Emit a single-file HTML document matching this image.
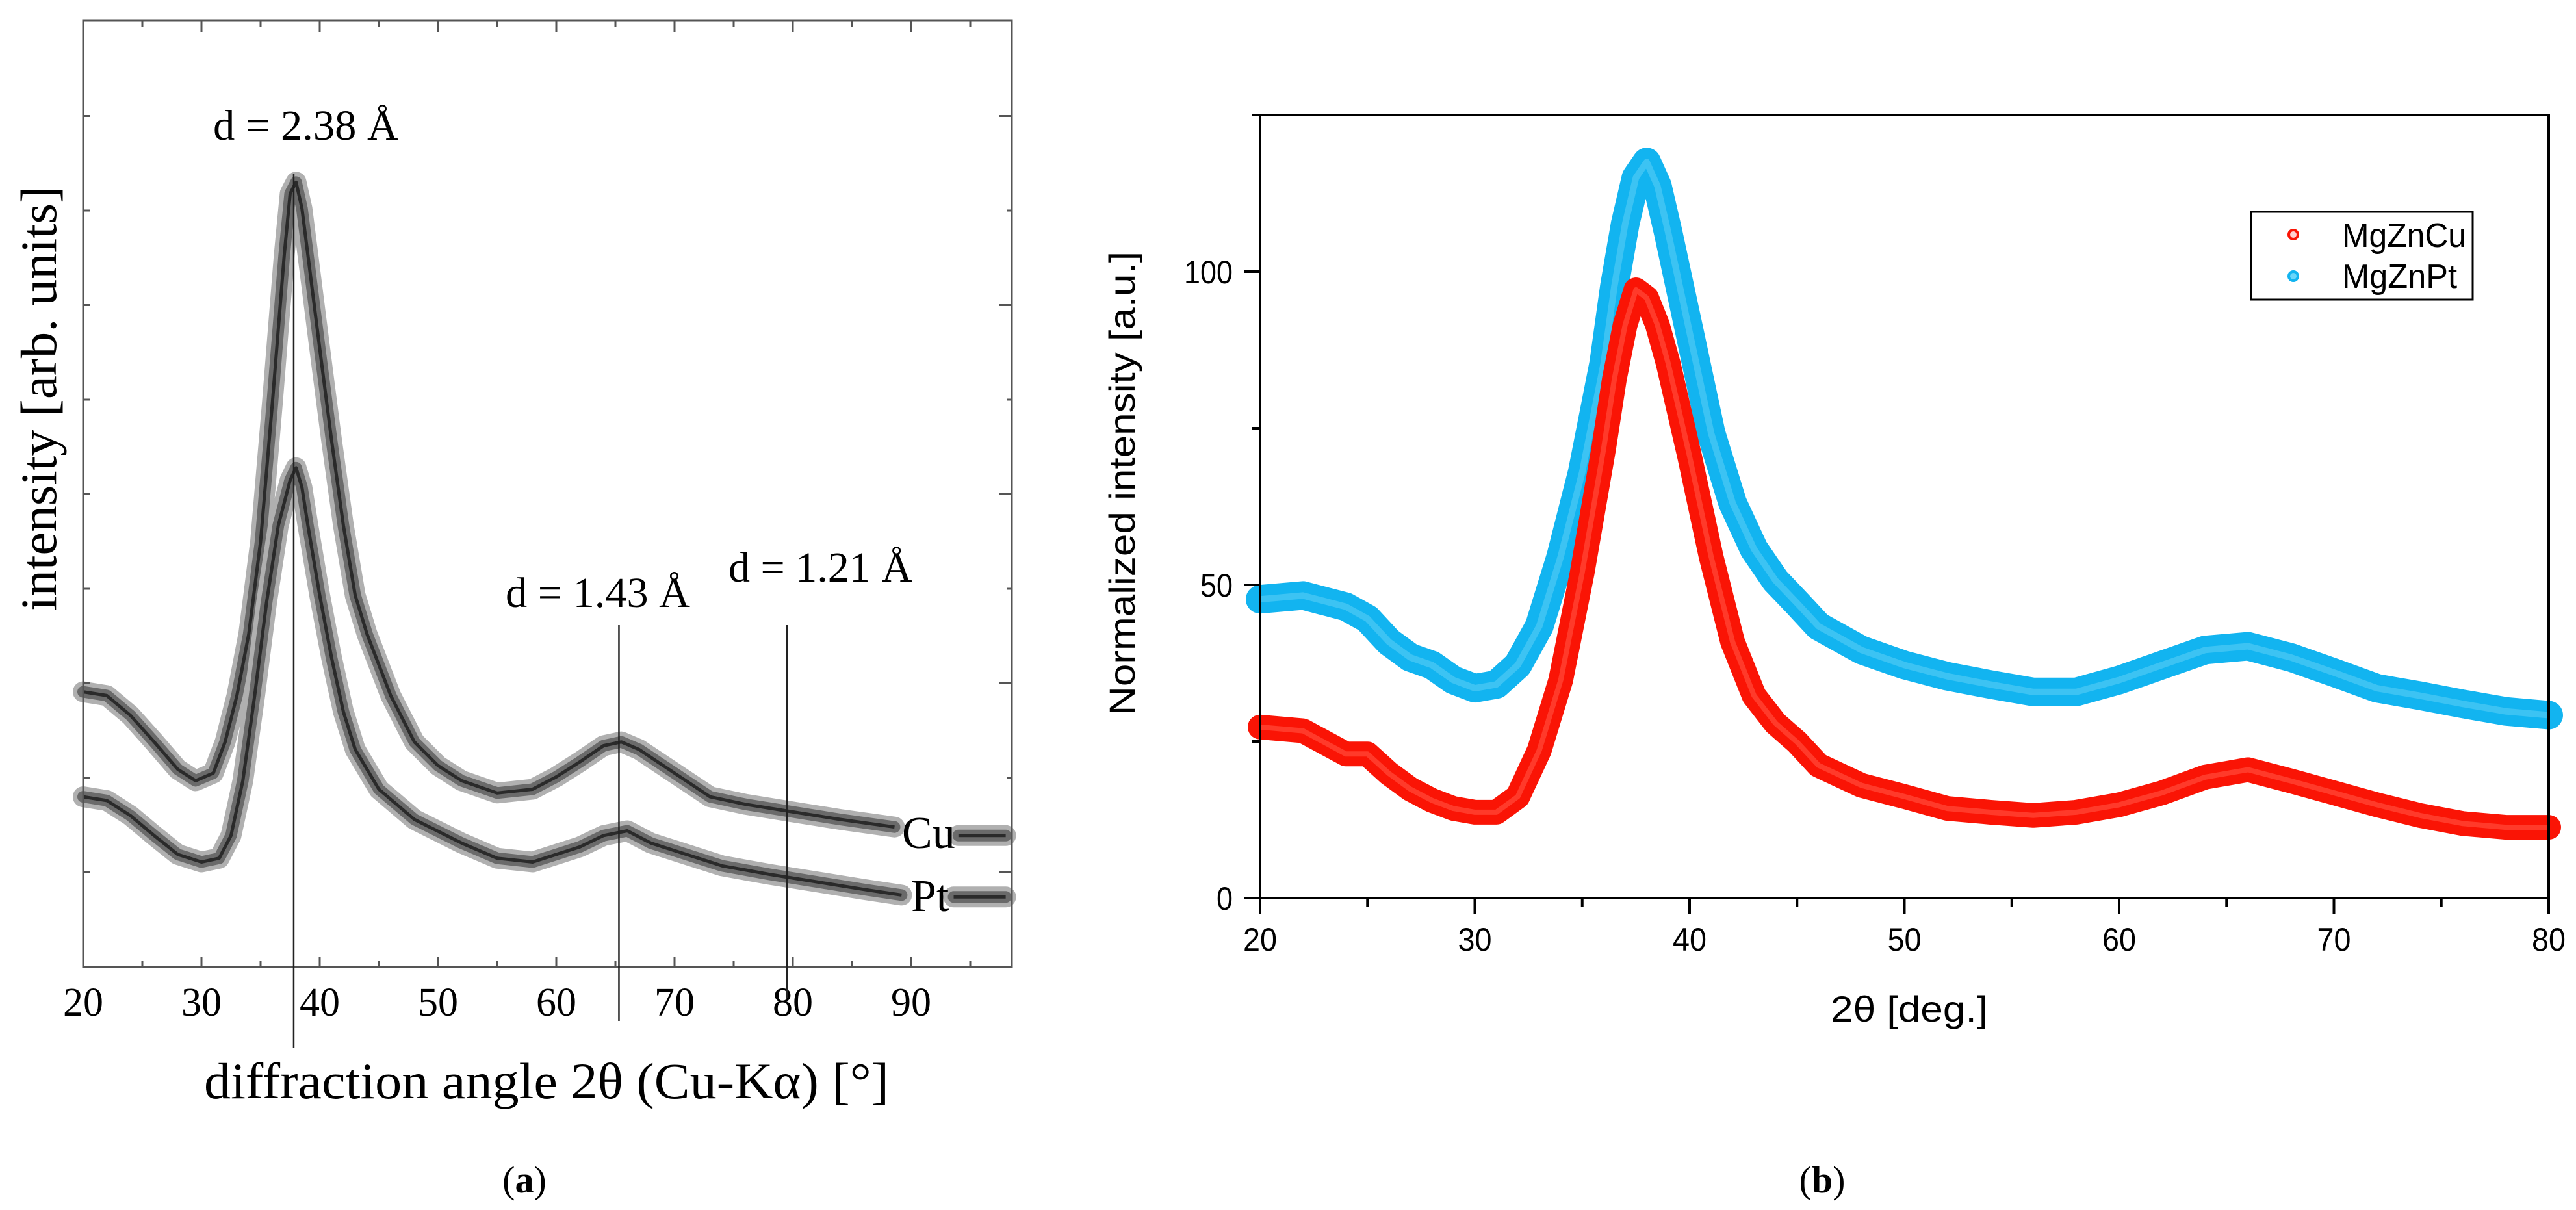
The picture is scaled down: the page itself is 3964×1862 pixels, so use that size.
<!DOCTYPE html>
<html><head><meta charset="utf-8"><style>
html,body{margin:0;padding:0;background:#fff;}
svg{display:block;}
</style></head><body>
<svg id="fig" width="3964" height="1862" viewBox="0 0 3964 1862" xmlns="http://www.w3.org/2000/svg">
<rect width="3964" height="1862" fill="#fff"/>
<g id="panelA" font-family="'Liberation Serif', serif"></g>
<g id="panelB" font-family="'Liberation Sans', sans-serif"></g>
</svg>
<script>
// ---- Panel (a) data ----
const aCuX = [20,22,24,26,28,29.5,31,32,33,34,35,36,37,37.5,38,38.5,39,40,41,42,43,44,46,48,50,52,55,58,60,62,64,65.5,67,70,73,76,80,84,88.6,91,94,98];
const aCuY = [2.91,2.87,2.66,2.38,2.09,1.97,2.05,2.38,2.87,3.52,4.50,5.97,7.53,8.18,8.30,8.02,7.53,6.54,5.57,4.67,3.93,3.52,2.87,2.38,2.13,1.97,1.84,1.88,2.01,2.17,2.34,2.38,2.30,2.05,1.80,1.72,1.64,1.56,1.48,null,1.39,1.39];
const aPtX = [20,22,24,26,28,30,31.5,32.5,33.5,34.5,35.5,36.5,37.5,38,38.5,39,40,41,42,43,45,48,52,55,58,60,62,64,66,68,70,74,78,82,86,89.2,91,93.6,98];
const aPtY = [1.80,1.76,1.60,1.39,1.19,1.11,1.15,1.39,1.97,2.87,3.85,4.67,5.15,5.28,5.07,4.67,3.93,3.27,2.70,2.30,1.88,1.56,1.31,1.15,1.11,1.19,1.27,1.39,1.44,1.31,1.23,1.07,0.98,0.90,0.82,0.76,null,0.74,0.74];
const aXTicks = [20,30,40,50,60,70,80,90];
// ---- Panel (b) data ----
const bX = [20,22,24,25,26,27,28,29,30,31,32,33,34,35,36,36.5,37,37.5,38,38.5,39,40,41,42,43,44,45,46,48,50,52,54,56,58,60,62,64,66,68,70,72,74,76,78,80];
const bPt = [47.7,48.3,46.5,44.6,40.9,38.4,37.2,34.8,33.5,34.1,37.2,43.4,54.5,68.0,85.4,97.7,107.6,115.0,117.5,113.7,106.3,90.3,74.2,63.1,55.7,50.7,47.1,43.4,39.6,37.2,35.4,34.1,32.9,32.9,34.8,37.2,39.6,40.2,38.4,36.0,33.5,32.3,31.0,29.8,29.2];
const bCu = [27.3,26.7,23.0,23.0,19.9,17.4,15.6,14.3,13.7,13.7,16.2,23.6,34.8,52.0,71.8,82.9,91.5,97.1,95.8,91.5,85.4,70.5,54.5,40.9,32.3,27.9,24.9,21.2,18.0,16.2,14.3,13.7,13.2,13.7,14.9,16.8,19.3,20.5,18.7,16.8,14.9,13.2,11.9,11.3,11.3];
const bXTicks = [20,30,40,50,60,70,80];
const bYTicks = [0,50,100];

const NS = "http://www.w3.org/2000/svg";
function mk(parent, tag, attrs, text){
  const e = document.createElementNS(NS, tag);
  for (const k in attrs) e.setAttribute(k, attrs[k]);
  if (text !== undefined) e.textContent = text;
  parent.appendChild(e);
  return e;
}
function pathFrom(xs, ys, sx, sy){
  let d = "", pen = false;
  for (let i=0;i<xs.length;i++){
    if (ys[i] === null){ pen = false; continue; }
    d += (pen ? "L" : "M") + sx(xs[i]).toFixed(1) + "," + sy(ys[i]).toFixed(1);
    pen = true;
  }
  return d;
}

// ===== Panel A =====
(function(){
  const g = document.getElementById('panelA');
  const L=128, R=1557, T=32, B=1488;
  const sx = v => L + (v-20)*18.2;
  const sy = v => B - v*145.5;
  [[aCuX,aCuY,'cu-series'],[aPtX,aPtY,'pt-series']].forEach(s=>{
    const d = pathFrom(s[0], s[1], sx, sy);
    const grp = mk(g,'g',{});
    
    
    mk(grp,'path',{d:d, fill:'none', stroke:'#b0b0b0', 'stroke-width':32, 'stroke-linejoin':'round','stroke-linecap':'round'});
    mk(grp,'path',{d:d, fill:'none', stroke:'#6a6a6a', 'stroke-width':18, 'stroke-linejoin':'round','stroke-linecap':'round'});
    mk(grp,'path',{d:d, fill:'none', stroke:'#2a2a2a', 'stroke-width':5, 'stroke-linejoin':'round'});
  });
  const fr = mk(g,'rect',{x:L,y:T,width:R-L,height:B-T,fill:'none',stroke:'#555','stroke-width':3});
   
  for (let v=20; v<=95; v+=5){
    const major = v%10===0;
    const x = sx(v);
    mk(g,'line',{x1:x,y1:B,x2:x,y2:B-(major?16:9),stroke:'#555','stroke-width':3});
    mk(g,'line',{x1:x,y1:T,x2:x,y2:T+(major?18:9),stroke:'#555','stroke-width':3});
  }
  for (let k=1;k<=9;k++){
    const y = sy(k);
    mk(g,'line',{x1:L,y1:y,x2:L+10,y2:y,stroke:'#555','stroke-width':3});
    mk(g,'line',{x1:R,y1:y,x2:R-(k%2===0?8:19),y2:y,stroke:'#555','stroke-width':3});
  }
  aXTicks.forEach(v=>{
    const t = mk(g,'text',{x:sx(v),y:1563,'font-size':62,'text-anchor':'middle',fill:'#000'},String(v));
     
  });
  [[37.8,268,1612],[65.3,962,1571],[79.5,962,1535]].forEach(l=>{
    const ln = mk(g,'line',{x1:sx(l[0]),y1:l[1],x2:sx(l[0]),y2:l[2],stroke:'#222','stroke-width':2.5});
     
  });
  const ann = [["d = 2.38 Å",328,215,285],["d = 1.43 Å",778,934,284],["d = 1.21 Å",1121,895,283]];
  ann.forEach(a=>{
    const t = mk(g,'text',{x:a[1],y:a[2],'font-size':66,textLength:a[3],lengthAdjust:'spacingAndGlyphs',fill:'#000'},a[0]);
     
  });
  let t = mk(g,'text',{x:1388,y:1305,'font-size':70,fill:'#000'},"Cu");
   
  t = mk(g,'text',{x:1402,y:1402,'font-size':70,fill:'#000'},"Pt");
   
  t = mk(g,'text',{x:314,y:1690,'font-size':78,textLength:1054,lengthAdjust:'spacingAndGlyphs',fill:'#000'},"diffraction angle 2θ (Cu-Kα) [°]");
   
  t = mk(g,'text',{x:0,y:0,'font-size':78,'text-anchor':'middle',textLength:654,lengthAdjust:'spacingAndGlyphs',fill:'#000',transform:'translate(86,613) rotate(-90)'},"intensity [arb. units]");
   
  t = mk(g,'text',{x:807,y:1835,'font-size':58,'text-anchor':'middle',fill:'#000'});
  t.innerHTML = '(<tspan font-weight="bold">a</tspan>)';
   
})();

// ===== Panel B =====
(function(){
  const g = document.getElementById('panelB');
  const L=1939, R=3922, T=177, B=1382;
  const sx = v => L + (v-20)*(R-L)/60;
  const sy = v => B - v*9.64;
  let grp = mk(g,'g',{});
   
  let d = pathFrom(bX,bPt,sx,sy);
  mk(grp,'path',{d:d,fill:'none',stroke:'#12b4f0','stroke-width':44,'stroke-linejoin':'round','stroke-linecap':'round'});
  mk(grp,'path',{d:d,fill:'none',stroke:'#3cc3f3','stroke-width':10,'stroke-linejoin':'round'});
  grp = mk(g,'g',{});
   
  d = pathFrom(bX,bCu,sx,sy);
  mk(grp,'path',{d:d,fill:'none',stroke:'#fa1405','stroke-width':38,'stroke-linejoin':'round','stroke-linecap':'round'});
  mk(grp,'path',{d:d,fill:'none',stroke:'#ff3a2a','stroke-width':8,'stroke-linejoin':'round'});
  const fr = mk(g,'rect',{x:L,y:T,width:R-L,height:B-T,fill:'none',stroke:'#000','stroke-width':4});
   
  mk(g,'line',{x1:1927,y1:T,x2:L,y2:T,stroke:'#000','stroke-width':4});
  for (let v=20; v<=80; v+=5){
    const major = v%10===0;
    mk(g,'line',{x1:sx(v),y1:B,x2:sx(v),y2:B+(major?25:13),stroke:'#000','stroke-width':4});
  }
  for (let v=0; v<=125; v+=25){
    const major = v%50===0;
    mk(g,'line',{x1:L,y1:sy(v),x2:L-(major?24:12),y2:sy(v),stroke:'#000','stroke-width':4});
  }
  bXTicks.forEach(v=>{
    const t = mk(g,'text',{x:sx(v),y:1463,'font-size':50,'text-anchor':'middle',fill:'#000',textLength:52,lengthAdjust:'spacingAndGlyphs'},String(v));
     
  });
  bYTicks.forEach(v=>{
    const s = String(v);
    const t = mk(g,'text',{x:1897,y:sy(v)+18,'font-size':50,'text-anchor':'end',fill:'#000',textLength:s.length*25,lengthAdjust:'spacingAndGlyphs'},s);
     
  });
  let t = mk(g,'text',{x:2817,y:1572,'font-size':56,textLength:242,lengthAdjust:'spacingAndGlyphs',fill:'#000'},"2θ [deg.]");
   
  t = mk(g,'text',{x:0,y:0,'font-size':56,'text-anchor':'middle',textLength:714,lengthAdjust:'spacingAndGlyphs',fill:'#000',transform:'translate(1746,744) rotate(-90)'},"Normalized intensity [a.u.]");
   
  const lg = mk(g,'g',{});
   
  mk(lg,'rect',{x:3464,y:326,width:341,height:135,fill:'#fff',stroke:'#000','stroke-width':3});
  let e = mk(lg,'circle',{cx:3529,cy:361,r:7,fill:'#ffd0d0',stroke:'#fa1405','stroke-width':4});
   
  e = mk(lg,'text',{x:3604,y:380,'font-size':52,textLength:191,lengthAdjust:'spacingAndGlyphs',fill:'#000'},"MgZnCu");
   
  e = mk(lg,'circle',{cx:3529,cy:425,r:7,fill:'#6ad6fa',stroke:'#12b4f0','stroke-width':4});
   
  e = mk(lg,'text',{x:3604,y:443,'font-size':52,textLength:177,lengthAdjust:'spacingAndGlyphs',fill:'#000'},"MgZnPt");
   
  t = mk(g,'text',{x:2804,y:1835,'font-size':58,'text-anchor':'middle','font-family':"'Liberation Serif', serif",fill:'#000'});
  t.innerHTML = '(<tspan font-weight="bold">b</tspan>)';
   
})();
</script>
</body></html>
